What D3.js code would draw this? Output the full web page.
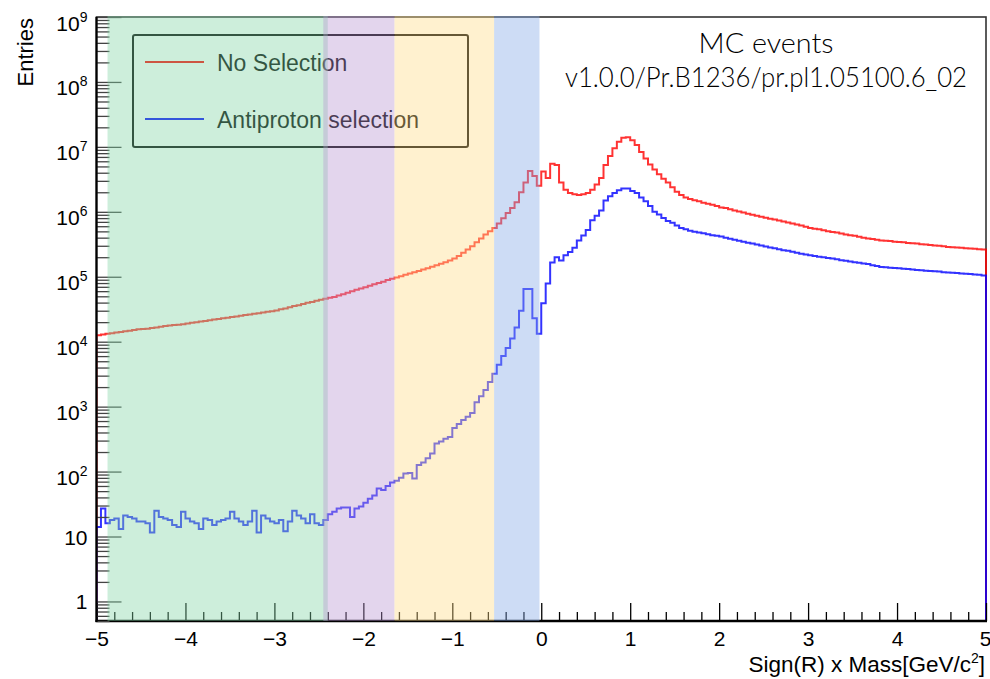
<!DOCTYPE html>
<html>
<head>
<meta charset="utf-8">
<script src="https://cdn.jsdelivr.net/npm/d3@7"></script>
<style>
    body { margin: 0; background: #fff; }
    svg { display: block; font-family: "Liberation Sans", Arial, Helvetica, sans-serif; }
</style>
</head>
<body>
<svg id="chart" width="990" height="679"></svg>
<script>
// histogram contents, 200 bins of 0.05 from -5 to 5
const noSelection = [
    1.26e4, 1.29e4, 1.32e4, 1.35e4, 1.38e4, 1.41e4, 1.45e4, 1.48e4, 1.51e4, 1.55e4, 1.57e4, 1.58e4, 1.62e4, 1.66e4, 1.70e4, 1.74e4, 1.78e4, 1.80e4, 1.82e4, 1.86e4,
    1.91e4, 1.95e4, 2.00e4, 2.04e4, 2.09e4, 2.14e4, 2.19e4, 2.24e4, 2.29e4, 2.34e4, 2.40e4, 2.45e4, 2.51e4, 2.57e4, 2.63e4, 2.69e4, 2.75e4, 2.82e4, 2.88e4, 2.95e4,
    3.02e4, 3.16e4, 3.24e4, 3.39e4, 3.55e4, 3.63e4, 3.80e4, 3.98e4, 4.07e4, 4.27e4, 4.42e4, 4.57e4, 4.73e4, 4.90e4, 5.13e4, 5.37e4, 5.69e4, 5.96e4, 6.31e4, 6.61e4,
    6.92e4, 7.24e4, 7.67e4, 8.04e4, 8.41e4, 8.91e4, 9.33e4, 9.77e4, 1.02e5, 1.07e5, 1.12e5, 1.17e5, 1.23e5, 1.29e5, 1.35e5, 1.43e5, 1.51e5, 1.58e5, 1.68e5, 1.78e5,
    1.91e5, 2.09e5, 2.34e5, 2.63e5, 2.95e5, 3.39e5, 3.89e5, 4.47e5, 5.01e5, 5.62e5, 6.61e5, 7.94e5, 9.55e5, 1.15e6, 1.41e6, 2.00e6, 2.82e6, 4.27e6, 3.55e6, 2.51e6,
    4.17e6, 3.31e6, 5.50e6, 5.25e6, 2.82e6, 2.19e6, 1.95e6, 1.86e6, 1.82e6, 1.86e6, 1.95e6, 2.19e6, 2.63e6, 3.31e6, 5.25e6, 7.24e6, 9.55e6, 1.20e7, 1.38e7, 1.41e7,
    1.26e7, 1.07e7, 8.32e6, 6.61e6, 5.37e6, 4.47e6, 3.80e6, 3.24e6, 2.82e6, 2.40e6, 2.04e6, 1.82e6, 1.66e6, 1.58e6, 1.51e6, 1.45e6, 1.38e6, 1.33e6, 1.29e6, 1.23e6,
    1.17e6, 1.14e6, 1.10e6, 1.05e6, 1.01e6, 9.77e5, 9.33e5, 9.02e5, 8.71e5, 8.41e5, 8.13e5, 7.85e5, 7.59e5, 7.33e5, 7.08e5, 6.84e5, 6.61e5, 6.38e5, 6.17e5, 5.89e5,
    5.62e5, 5.50e5, 5.37e5, 5.19e5, 5.01e5, 4.90e5, 4.79e5, 4.62e5, 4.47e5, 4.37e5, 4.27e5, 4.12e5, 3.98e5, 3.89e5, 3.80e5, 3.72e5, 3.63e5, 3.59e5, 3.55e5, 3.47e5,
    3.43e5, 3.39e5, 3.31e5, 3.27e5, 3.24e5, 3.16e5, 3.13e5, 3.09e5, 3.02e5, 2.99e5, 2.95e5, 2.88e5, 2.85e5, 2.82e5, 2.79e5, 2.75e5, 2.72e5, 2.69e5, 2.66e5, 2.63e5
];
const antiprotonSelection = [
    14, 27, 16, 18, 19, 13, 21, 20, 19, 17, 17, 16, 11.5, 25, 20, 19, 18, 15, 14, 24,
    19, 17, 16, 13, 19, 18, 15, 17, 18, 19, 24, 19, 17, 15, 17, 25, 11.5, 21, 19, 17,
    16, 18, 12, 17, 25, 21, 19, 16, 22, 16, 15, 18, 22, 24, 27, 28, 28, 20, 27, 29,
    33, 38, 43, 55, 52, 60, 68, 72, 80, 93, 95, 78, 126, 138, 160, 190, 270, 290, 320, 340,
    470, 540, 620, 700, 800, 1170, 1450, 1800, 2400, 3200, 4400, 6000, 8000, 11200, 16600, 30000, 65000, 65000, 23000, 13200,
    39000, 79000, 166000, 200000, 178000, 214000, 240000, 280000, 363000, 430000, 525000, 740000, 870000, 1.05e6, 1.5e6, 1.74e6, 1.95e6, 2.14e6, 2.29e6, 2.29e6,
    2.09e6, 1.95e6, 1.66e6, 1.45e6, 1.23e6, 1.0e6, 9.12e5, 8.0e5, 7.24e5, 6.76e5, 6.17e5, 5.62e5, 5.37e5, 5.13e5, 4.95e5, 4.79e5, 4.68e5, 4.52e5, 4.37e5, 4.27e5,
    4.17e5, 3.98e5, 3.85e5, 3.72e5, 3.59e5, 3.47e5, 3.35e5, 3.24e5, 3.13e5, 3.02e5, 2.92e5, 2.82e5, 2.75e5, 2.66e5, 2.57e5, 2.51e5, 2.43e5, 2.34e5, 2.26e5, 2.21e5,
    2.14e5, 2.09e5, 2.04e5, 2.00e5, 1.95e5, 1.91e5, 1.86e5, 1.80e5, 1.76e5, 1.72e5, 1.68e5, 1.64e5, 1.60e5, 1.57e5, 1.51e5, 1.46e5, 1.41e5, 1.40e5, 1.38e5, 1.36e5,
    1.35e5, 1.33e5, 1.32e5, 1.29e5, 1.27e5, 1.26e5, 1.24e5, 1.23e5, 1.22e5, 1.20e5, 1.17e5, 1.16e5, 1.15e5, 1.14e5, 1.12e5, 1.11e5, 1.10e5, 1.08e5, 1.07e5, 1.05e5
];

const xTickValues = [-5, -4, -3, -2, -1, 0, 1, 2, 3, 4, 5];
const yTickValues = [1, 10, 1e2, 1e3, 1e4, 1e5, 1e6, 1e7, 1e8, 1e9];

// shaded mass windows
const bandStart = [-4.876, -2.45, -1.65, -0.53];
const bandEnd = [-2.40, -1.65, -0.53, -0.02];
const bandColors = ["rgb(130,212,165)", "rgb(185,150,210)", "rgb(255,220,135)", "rgb(130,168,230)"];

const legendLabels = ["No Selection", "Antiproton selection"];
const seriesColors = ["#ff0000", "#0000ff"];
const infoLines = ["MC events", "v1.0.0/Pr.B1236/pr.pl1.05100.6_02"];

const svg = d3.select("#chart");
const width = 990, height = 679;
const margin = { left: 96.5, right: 4, top: 17, bottom: 58 };

const x = d3.scaleLinear().domain([-5, 5]).range([margin.left, width - margin.right]);
const y = d3.scaleLog().domain([0.5, 1e9]).range([height - margin.bottom, margin.top]);
const binWidth = 10 / noSelection.length;

svg.append("clipPath").attr("id", "plot-clip")
    .append("rect")
    .attr("x", x(-5)).attr("y", y(1e9))
    .attr("width", x(5) - x(-5) + 2).attr("height", y(0.5) - y(1e9));

// frame top / right
svg.append("rect")
    .attr("x", x(-5)).attr("y", y(1e9))
    .attr("width", x(5) - x(-5)).attr("height", y(0.5) - y(1e9))
    .attr("fill", "none").attr("stroke", "#333").attr("stroke-width", 1.6);

// info text
svg.append("g").selectAll("text")
    .data(infoLines)
    .join("text")
    .attr("x", 766)
    .attr("y", (d, i) => 53 + i * 34)
    .attr("text-anchor", "middle")
    .attr("font-family", "Lato, 'Open Sans', sans-serif")
    .attr("font-weight", 300)
    .attr("font-size", 27)
    .attr("fill", "#000")
    .attr("textLength", (d, i) => i === 0 ? 135 : 402)
    .attr("lengthAdjust", "spacingAndGlyphs")
    .text(d => d);

// histograms as steps
const stepLine = d3.line()
    .x(d => x(d[0]))
    .y(d => y(d[1]))
    .curve(d3.curveStepAfter);

function histPoints(values) {
    const pts = [[-5, 0.5]];
    values.forEach((v, i) => pts.push([-5 + i * binWidth, v]));
    pts.push([5, values[values.length - 1]]);
    pts.push([5, 0.5]);
    return pts;
}

const plot = svg.append("g").attr("clip-path", "url(#plot-clip)");
[noSelection, antiprotonSelection].forEach((series, i) => {
    plot.append("path")
        .attr("d", stepLine(histPoints(series)))
        .attr("fill", "none")
        .attr("stroke", seriesColors[i])
        .attr("stroke-opacity", 0.8)
        .attr("stroke-width", 2);
});

// x axis
const xAxisG = svg.append("g").attr("transform", `translate(0,${y(0.5)})`);
xAxisG.append("g")
    .call(d3.axisBottom(x).tickValues(x.ticks(50).filter(t => Math.abs(t - Math.round(t)) > 1e-6)).tickSize(-9).tickFormat(""))
    .call(g => g.select(".domain").remove());
xAxisG.append("g")
    .call(d3.axisBottom(x).tickValues(xTickValues).tickSize(-18).tickPadding(10))
    .call(g => g.select(".domain").remove())
    .call(g => g.selectAll("text").attr("font-size", 21).attr("fill", "#000").attr("font-family", "Liberation Sans, Arial, sans-serif"))
    .call(g => g.selectAll("text").filter(d => d === 5).attr("text-anchor", "end").attr("dx", 5));
xAxisG.selectAll("line").attr("stroke", "#000").attr("stroke-width", 1.3);
xAxisG.append("line")
    .attr("x1", x(-5) - 1).attr("x2", x(5) + 1)
    .attr("stroke", "#000").attr("stroke-width", 2.6);

// y axis
const yAxisG = svg.append("g").attr("transform", `translate(${x(-5)},0)`);
yAxisG.append("g")
    .call(d3.axisLeft(y).tickValues(y.ticks(20).filter(t => !yTickValues.includes(t))).tickSize(-13).tickFormat(""))
    .call(g => g.select(".domain").remove());
const yMajor = yAxisG.append("g")
    .call(d3.axisLeft(y).tickValues(yTickValues).tickSize(-25).tickFormat(""))
    .call(g => g.select(".domain").remove());
yAxisG.selectAll("line").attr("stroke", "#444").attr("stroke-width", 1.3);

yMajor.selectAll(".tick").each(function (d) {
    const t = d3.select(this).append("text")
        .attr("x", -9)
        .attr("text-anchor", "end")
        .attr("fill", "#000")
        .attr("font-size", 21);
    if (d >= 100) {
        t.attr("y", 13).text("10");
        t.append("tspan").attr("dy", -9).attr("font-size", 14).text(Math.round(Math.log10(d)));
    } else {
        t.attr("y", 7.5).text(d);
    }
});
yAxisG.append("line")
    .attr("y1", y(1e9)).attr("y2", y(0.5) + 1)
    .attr("stroke", "#000").attr("stroke-width", 2.2);

// axis titles
svg.append("text")
    .attr("transform", "translate(33,18) rotate(-90)")
    .attr("text-anchor", "end")
    .attr("font-size", 22)
    .attr("fill", "#000")
    .text("Entries");

const xTitle = svg.append("text")
    .attr("x", 985).attr("y", 672)
    .attr("text-anchor", "end")
    .attr("font-size", 22.5)
    .attr("fill", "#000")
    .text("Sign(R) x Mass[GeV/c");
xTitle.append("tspan").attr("dy", -9).attr("font-size", 14).text("2");
xTitle.append("tspan").attr("dy", 9).text("]");

// legend
const legend = svg.append("g");
legend.append("rect")
    .attr("x", 133).attr("y", 35).attr("width", 335).attr("height", 112)
    .attr("rx", 2)
    .attr("fill", "none").attr("stroke", "#000").attr("stroke-width", 2);
legendLabels.forEach((label, i) => {
    const ly = 62 + i * 57;
    legend.append("line")
        .attr("x1", 145).attr("x2", 204).attr("y1", ly).attr("y2", ly)
        .attr("stroke", seriesColors[i]).attr("stroke-width", 2.2);
    legend.append("text")
        .attr("x", 217).attr("y", ly + 9)
        .attr("font-size", 23)
        .attr("fill", "#000")
        .text(label);
});

// bands drawn on top, half transparent
svg.append("g").selectAll("rect")
    .data(bandStart)
    .join("rect")
    .attr("x", d => x(d))
    .attr("y", y(1e9) - 1)
    .attr("width", (d, i) => x(bandEnd[i]) - x(d))
    .attr("height", y(0.5) - y(1e9) + 1)
    .attr("fill", (d, i) => bandColors[i])
    .attr("fill-opacity", 0.4);
</script>
</body>
</html>
